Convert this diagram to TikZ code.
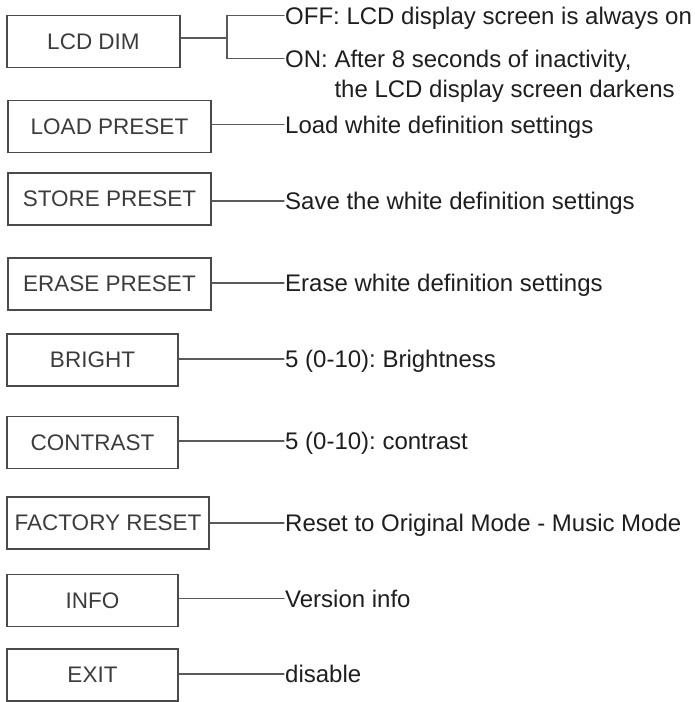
\documentclass[tikz,border=0pt]{standalone}
\usepackage{fontspec}
\setmainfont{Liberation Sans}
\usepackage{tikz}
\usetikzlibrary{positioning}
\usepackage{xcolor}
\definecolor{marco}{HTML}{4A4A4A}
\definecolor{linea}{HTML}{5A5A5A}
\definecolor{tinta}{HTML}{1E1E1E}
\definecolor{rotulo}{HTML}{3C3C3C}
\frenchspacing

\begin{document}
\begin{tikzpicture}[x=1pt,y=-1pt,line cap=round,
  menubox/.style={draw=marco,line width=1.8pt,minimum height=52pt,inner sep=0pt,
                  text=rotulo,font=\fontsize{22.5}{27}\selectfont},
  infotext/.style={anchor=west,inner sep=1pt,text=tinta,text height=17.2pt,
                   text depth=0pt,font=\fontsize{24}{32}\selectfont},
  conector/.style={draw=linea,line width=1.3pt}]
  \useasboundingbox (0,0) rectangle (695,702);
  % cajas del menu
  \node[menubox,minimum width=173pt] (lcd)      at (93.5,41.5)  {LCD DIM};
  \node[menubox,minimum width=203pt] (load)     at (109.5,126.5) {LOAD PRESET};
  \node[menubox,minimum width=203pt] (store)    at (109.5,199)  {STORE PRESET};
  \node[menubox,minimum width=203pt] (erase)    at (109.5,284)  {ERASE PRESET};
  \node[menubox,minimum width=171pt] (bright)   at (92.5,360)   {BRIGHT};
  \node[menubox,minimum width=171pt] (contrast) at (92.5,442.5) {CONTRAST};
  \node[menubox,minimum width=202pt] (factory)  at (108,523)    {FACTORY RESET};
  \node[menubox,minimum width=171pt] (info)     at (92.5,600.5) {INFO};
  \node[menubox,minimum width=171pt] (exit)     at (92.5,675)   {EXIT};
  % descripciones
  \node[infotext] (offtxt)      at (284,15.5)  {OFF: LCD display screen is always on};
  \node[infotext] (ontxt)       at (284,58.5)  {ON: After 8 seconds of inactivity,};
  \node[infotext] (ontxt2)      at (284,88.5)  {\phantom{ON: }the LCD display screen darkens};
  \node[infotext] (loadtxt)     at (284,124.5) {Load white definition settings};
  \node[infotext] (storetxt)    at (284,201)   {Save the white definition settings};
  \node[infotext] (erasetxt)    at (284,283)   {Erase white definition settings};
  \node[infotext] (brighttxt)   at (284,359)   {5 (0-10): Brightness};
  \node[infotext] (contrasttxt) at (284,441)   {5 (0-10): contrast};
  \node[infotext] (factorytxt)  at (284,523)   {Reset to Original Mode - Music Mode};
  \node[infotext] (infotxt)     at (284,598.5) {Version info};
  \node[infotext] (exittxt)     at (284,674)   {disable};
  % horquilla de LCD DIM
  \coordinate (lcdfork) at (227,38);
  \draw[conector] (lcd.east |- lcdfork) -- (lcdfork);
  \draw[conector] (offtxt.west) -| (lcdfork) |- (ontxt.west);
  % lineas simples
  \foreach \m in {load,store,erase,bright,contrast,factory,info,exit}{
    \draw[conector] (\m txt.west -| \m.east) -- (\m txt.west);
  }
\end{tikzpicture}
\end{document}
